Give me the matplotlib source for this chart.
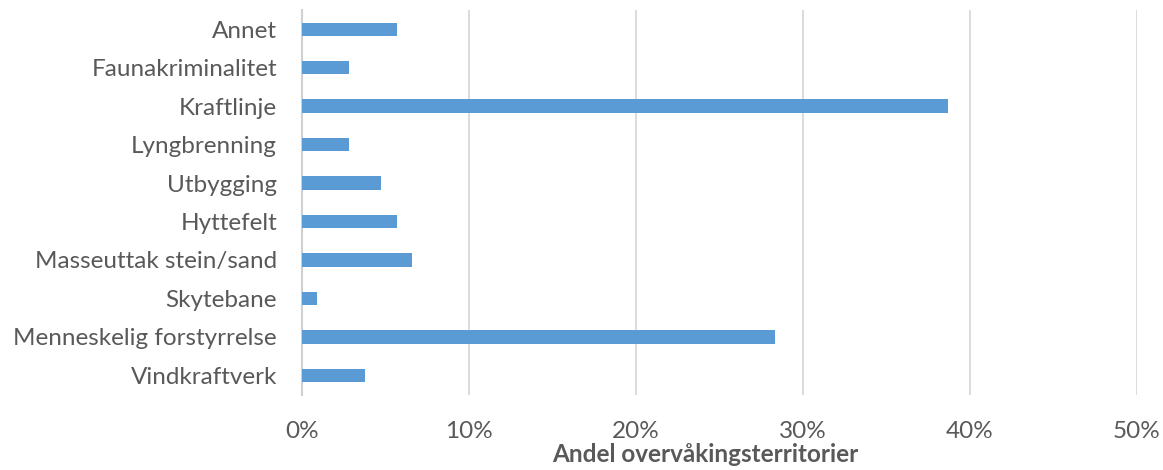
import matplotlib
matplotlib.use("Agg")
import matplotlib.pyplot as plt
from matplotlib.ticker import PercentFormatter

# categories top to bottom as in the chart
categories = ["Annet", "Faunakriminalitet", "Kraftlinje", "Lyngbrenning", "Utbygging",
              "Hyttefelt", "Masseuttak stein/sand", "Skytebane",
              "Menneskelig forstyrrelse", "Vindkraftverk"]
shares = [5.7, 2.8, 38.7, 2.8, 4.7, 5.7, 6.6, 0.9, 28.3, 3.8]
xticks = [0, 10, 20, 30, 40, 50]

plt.rcParams['font.family'] = ['Lato', 'DejaVu Sans']
text_color = '#595959'

fig = plt.figure(figsize=(11.63, 4.70), dpi=100)
ax = fig.add_axes([0.2597, 0.1606, 0.7179, 0.8181])

ypos = list(range(len(categories)))[::-1]
ax.barh(ypos, shares, height=0.35, color='#5b9bd5', zorder=3)

ax.set_xlim(0, 50)
ax.set_ylim(-0.5, len(categories) - 0.5)
ax.set_xticks(xticks)
ax.xaxis.set_major_formatter(PercentFormatter(decimals=0))
ax.set_yticks(ypos)
ax.set_yticklabels(categories)

ax.grid(axis='x', color='#d9d9d9', linewidth=1.3, zorder=0)
ax.tick_params(axis='both', length=0, labelsize=17.5, colors=text_color)
ax.tick_params(axis='x', pad=19)
ax.tick_params(axis='y', pad=18)

for s in ['top', 'right', 'bottom']:
    ax.spines[s].set_visible(False)
ax.spines['left'].set_color('#d0d0d0')
ax.spines['left'].set_linewidth(1.5)

ax.set_xlabel('Andel overvåkingsterritorier', fontsize=17.5, fontweight='bold',
              color=text_color)
ax.xaxis.label.set_va('baseline')
ax.xaxis.set_label_coords(0.483, -0.176)

fig.savefig('out.png', dpi=100)
